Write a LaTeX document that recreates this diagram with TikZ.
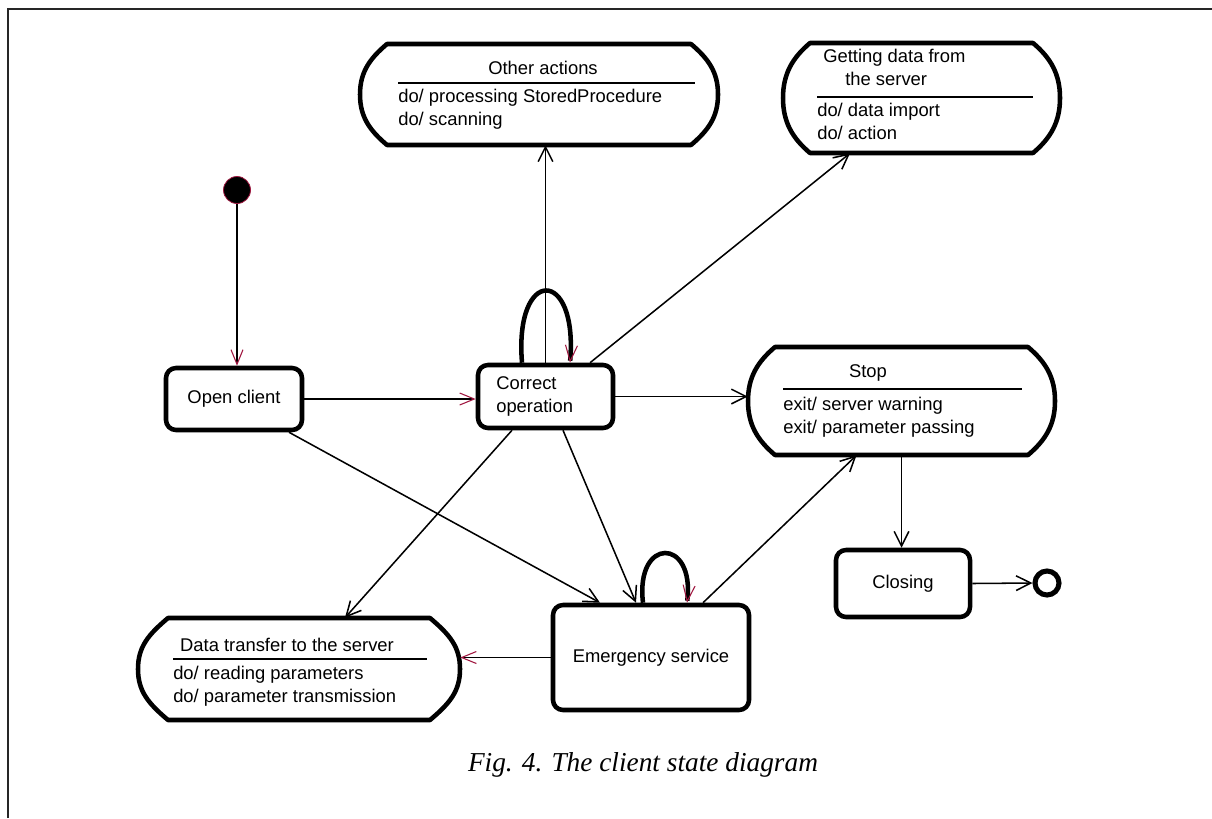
\documentclass[tikz,border=0pt]{standalone}
\usepackage{fontspec}
\setmainfont{Liberation Sans}
\newfontfamily\capfont{Liberation Serif}
\usetikzlibrary{arrows.meta,calc}
\definecolor{tipred}{HTML}{A0163F}
\newdimen\px \px=0.75pt
\newcommand\diagfont{\fontsize{13.8pt}{17pt}\selectfont}

% outline of a state with activities: x1, y1, x2, y2, chamfer
\newcommand\actoutline[5]{%
  \pgfmathsetmacro\actmid{(#2+#4)/2}%
  \pgfmathsetmacro\actht{#4-#2}%
  \draw[actline] ({(#1+#3)/2},#2) -- ({#3-#5},#2)
    .. controls ({#3-0.35*#5},{#2+0.55*#5}) and (#3,{\actmid-0.22*\actht}) .. (#3,\actmid)
    .. controls (#3,{\actmid+0.22*\actht}) and ({#3-0.35*#5},{#4-0.55*#5}) .. ({#3-#5},#4)
    -- ({#1+#5},#4)
    .. controls ({#1+0.35*#5},{#4-0.55*#5}) and (#1,{\actmid+0.22*\actht}) .. (#1,\actmid)
    .. controls (#1,{\actmid-0.22*\actht}) and ({#1+0.35*#5},{#2+0.55*#5}) .. ({#1+#5},#2)
    -- cycle;
}

\tikzset{
  statebox/.style={draw, line width=3.4pt, rounded corners=7.5pt, inner sep=0pt, font=\diagfont},
  actarea/.style={draw=none, inner sep=0pt},
  actline/.style={line width=3.4pt, line join=round},
  lbl/.style={inner sep=0pt, font=\diagfont, anchor=west},
  ttl/.style={inner sep=0pt, font=\diagfont},
  sepline/.style={line width=1.1pt},
  conn/.style={line width=1.15pt, -{Straight Barb[length=11pt,width=11pt,line width=1.15pt]}},
  connred/.style={line width=1.15pt, -{Straight Barb[length=11pt,width=9pt,line width=0.8pt,color=tipred]}},
  selfloop/.style={line width=3.4pt, -{Straight Barb[length=12pt,width=9pt,line width=0.8pt,color=tipred]}},
}

\begin{document}
\begin{tikzpicture}[x=0.75pt,y=-0.75pt]
\useasboundingbox (0,0) rectangle (1212,818);
\fill[white] (0,0) rectangle (1212,818);

% open frame
\draw[line width=1.6pt, draw=black!85] (8,818) -- (8,9) -- (1212,9);

% simple states
\node[circle, fill=black, draw=tipred, line width=0.6pt, minimum size=27\px, inner sep=0pt] (init) at (237,190) {};
\node[statebox, minimum width=136\px, minimum height=62\px] (open) at (234,399) {Open client};
\node[statebox, minimum width=135\px, minimum height=63\px] (correct) at (545.5,396.5) {};
\node[lbl, align=left] (correcttxt) at (496,396.5) {Correct\\operation};
\node[statebox, minimum width=134\px, minimum height=67\px] (closing) at (903,583.5) {Closing};
\node[statebox, minimum width=196\px, minimum height=105\px] (emerg) at (651,657.5) {Emergency service};
\node[circle, draw, line width=3.8pt, minimum size=24\px, inner sep=0pt] (final) at (1047,583) {};

% states with activities
\node[actarea, minimum width=358\px, minimum height=101\px] (other) at (539,94.5) {};
\actoutline{360}{44}{718}{145}{27}
\node[ttl] (othert) at (543,68) {Other actions};
\draw[sepline] (398,83) -- (695,83);
\node[lbl] (other1) at (398,98) {do/ processing StoredProcedure};
\node[lbl] (other2) at (398,121) {do/ scanning};

\node[actarea, minimum width=277\px, minimum height=110\px] (getting) at (921.5,98) {};
\actoutline{783}{43}{1060}{153}{27}
\node[lbl] (gettingt1) at (823,58) {Getting data from};
\node[lbl] (gettingt2) at (845,79) {the server};
\draw[sepline] (817,97) -- (1033,97);
\node[lbl] (getting1) at (817,112) {do/ data import};
\node[lbl] (getting2) at (817,133) {do/ action};

\node[actarea, minimum width=307\px, minimum height=108\px] (stop) at (901.5,401) {};
\actoutline{748}{347}{1055}{455}{27}
\node[ttl] (stopt) at (868,373) {Stop};
\draw[sepline] (783,389) -- (1022,389);
\node[lbl] (stop1) at (783,406) {exit/ server warning};
\node[lbl] (stop2) at (783,429) {exit/ parameter passing};

\node[actarea, minimum width=322\px, minimum height=102\px] (data) at (299,669) {};
\actoutline{138}{618}{460}{720}{30}
\node[ttl] (datat) at (287,645) {Data transfer to the server};
\draw[sepline] (173,659) -- (427,659);
\node[lbl] (data1) at (173,675) {do/ reading parameters};
\node[lbl] (data2) at (173,698) {do/ parameter transmission};

% transitions
\draw[connred] (init.south) -- (init.south |- open.north);
\draw[connred] (open.east) -- (open.east -| correct.west);
\draw[conn] (correct.north) -- (correct.north |- other.south);
\draw[conn] ([xshift=44.5\px]correct.north) -- ([xshift=-71.5\px]getting.south);
\draw[conn] (correct.east) -- (correct.east -| stop.west);
\draw[selfloop] ([xshift=-23.5\px]correct.north) .. controls +(-8,-96) and +(8,-96) .. ([xshift=24.5\px]correct.north);
\draw[conn] ([xshift=-33.5\px]correct.south) -- ([xshift=46\px]data.north);
\draw[conn] ([xshift=17.5\px]correct.south) -- ([xshift=-15\px]emerg.north);
\draw[conn] ([xshift=55\px]open.south) -- ([xshift=-51\px]emerg.north);
\draw[selfloop] ([xshift=-8\px]emerg.north) .. controls +(-8,-66) and +(8,-66) .. ([xshift=36\px]emerg.north);
\draw[connred] (emerg.west) -- (emerg.west -| data.east);
\draw[conn] ([xshift=52\px]emerg.north) -- ([xshift=-45\px]stop.south);
\draw[conn] (stop.south) -- (stop.south |- closing.north);
\draw[conn] (closing.east) -- (final.west);

% caption
\node[inner sep=0pt, font=\capfont\itshape\fontsize{20.5pt}{24pt}\selectfont] (caption) at (643,765) {Fig. 4. The client state diagram};
\end{tikzpicture}
\end{document}
